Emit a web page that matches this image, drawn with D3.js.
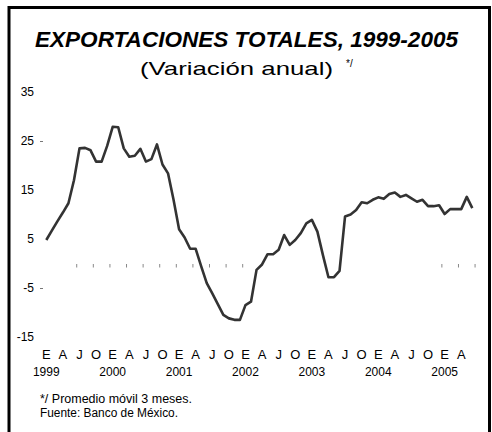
<!DOCTYPE html>
<html>
<head>
<meta charset="utf-8">
<script src="https://cdn.jsdelivr.net/npm/d3@7"></script>
<style>
  body { margin: 0; background: #fff; }
  svg { display: block; font-family: "Liberation Sans", Arial, sans-serif; }
</style>
</head>
<body>
<div id="chart"></div>
<script>
"use strict";

// monthly series, Jan 1999 .. Jun 2005 (3-month moving average, annual % change)
const start_year = 1999;
const values = [
  4.8, 6.7, 8.6, 10.4, 12.3, 17.0, 23.5, 23.6, 23.1, 20.8, 20.8, 24.0,
  27.9, 27.8, 23.5, 21.8, 22.0, 23.4, 20.8, 21.3, 24.3, 20.2, 18.4, 13.0,
  7.0, 5.3, 3.0, 3.0, -0.6, -4.0, -6.1, -8.3, -10.5, -11.2, -11.5, -11.5,
  -8.5, -7.8, -1.3, -0.2, 1.9, 1.9, 2.8, 5.8, 3.8, 4.8, 6.2, 8.2,
  8.9, 6.5, 1.7, -2.8, -2.8, -1.5, 9.6, 10.0, 10.9, 12.5, 12.3, 13.0,
  13.5, 13.2, 14.2, 14.5, 13.6, 14.0, 13.3, 12.6, 13.0, 11.7, 11.7, 11.9,
  10.1, 11.1, 11.1, 11.1, 13.6, 11.3
];
const month_letters = ["E", "A", "J", "O"];   // enero, abril, julio, octubre
const years = [1999, 2000, 2001, 2002, 2003, 2004, 2005];
const y_ticks = [35, 25, 15, 5, -5, -15];
const y_dashed = [25, -5];
// quarter ticks on the zero line that show in the original (month index)
const zero_ticks = [6, 9, 12, 15, 18, 21, 24, 27, 30, 33, 36, 72, 75, 78];

const title = "EXPORTACIONES TOTALES, 1999-2005";
const subtitle = "(Variación anual)";
const notes = ["*/ Promedio móvil 3 meses.", "Fuente: Banco de México."];

const width = 492;
const height = 432;

const svg = d3.select("#chart")
    .append("svg")
    .attr("width", width)
    .attr("height", height);

svg.append("rect")
    .attr("x", 9)
    .attr("y", 7.5)
    .attr("width", 480.5)
    .attr("height", 440)
    .style("fill", "none")
    .style("stroke", "#000")
    .style("stroke-width", 3);

const x = d3.scaleLinear()
    .domain([0, 77])
    .range([46.3, 472.3]);

const y = d3.scaleLinear()
    .domain([-15, 35])
    .range([337, 92]);

// titles
svg.append("text")
    .attr("x", 35)
    .attr("y", 46.5)
    .attr("textLength", 423)
    .attr("lengthAdjust", "spacingAndGlyphs")
    .style("font-size", "21.5px")
    .style("font-weight", "bold")
    .style("font-style", "italic")
    .text(title);

svg.append("text")
    .attr("x", 140)
    .attr("y", 75)
    .attr("textLength", 193)
    .attr("lengthAdjust", "spacingAndGlyphs")
    .style("font-size", "19px")
    .text(subtitle);

svg.append("text")
    .attr("x", 346)
    .attr("y", 67)
    .style("font-size", "10px")
    .text("*/");

// y labels
svg.selectAll(".y-label")
    .data(y_ticks)
    .enter()
    .append("text")
    .attr("class", "y-label")
    .attr("x", 34)
    .attr("y", d => y(d))
    .attr("dy", "0.35em")
    .attr("text-anchor", "end")
    .style("font-size", "12px")
    .text(d => d);

svg.selectAll(".y-dash")
    .data(y_dashed)
    .enter()
    .append("line")
    .attr("x1", 40)
    .attr("x2", 43)
    .attr("y1", d => y(d) + 0.5)
    .attr("y2", d => y(d) + 0.5)
    .style("stroke", "#777")
    .style("stroke-width", 1);

// quarter ticks on zero line
svg.selectAll(".zero-tick")
    .data(zero_ticks)
    .enter()
    .append("line")
    .attr("x1", d => x(d - 0.5))
    .attr("x2", d => x(d - 0.5))
    .attr("y1", y(0) + 0.5)
    .attr("y2", y(0) + 4)
    .style("stroke", "#888")
    .style("stroke-width", 1);

// line
const line = d3.line()
    .x((d, i) => x(i))
    .y(d => y(d));

svg.append("path")
    .datum(values)
    .attr("d", line)
    .style("fill", "none")
    .style("stroke", "#333")
    .style("stroke-width", 2.6)
    .style("stroke-linejoin", "round");

// x labels
const quarters = d3.range(0, values.length, 3);

svg.selectAll(".month-label")
    .data(quarters)
    .enter()
    .append("text")
    .attr("class", "month-label")
    .attr("x", d => x(d))
    .attr("y", 359)
    .attr("text-anchor", "middle")
    .style("font-size", "13px")
    .text(d => month_letters[(d % 12) / 3]);

svg.selectAll(".year-label")
    .data(years)
    .enter()
    .append("text")
    .attr("class", "year-label")
    .attr("x", d => x((d - start_year) * 12))
    .attr("y", 376)
    .attr("text-anchor", "middle")
    .style("font-size", "12px")
    .text(d => d);

// notes
svg.selectAll(".note")
    .data(notes)
    .enter()
    .append("text")
    .attr("class", "note")
    .attr("x", 40)
    .attr("y", (d, i) => 403 + i * 13.5)
    .attr("textLength", (d, i) => i === 0 ? 152 : 138)
    .attr("lengthAdjust", "spacingAndGlyphs")
    .style("font-size", "12px")
    .text(d => d);
</script>
</body>
</html>
